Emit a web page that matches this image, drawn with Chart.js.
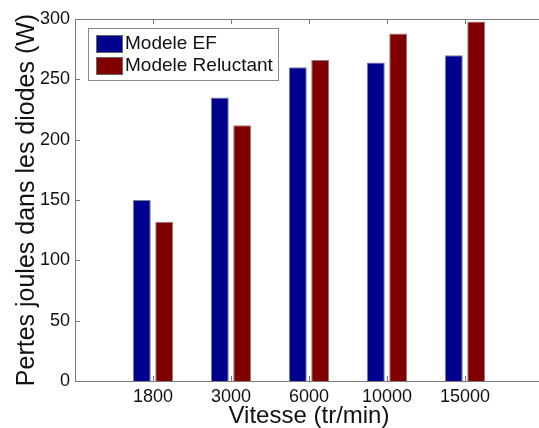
<!DOCTYPE html>
<html>
<head>
<meta charset="utf-8">
<script src="https://cdn.jsdelivr.net/npm/chart.js@4/dist/chart.umd.min.js"></script>
<style>
  html, body { margin: 0; padding: 0; overflow: hidden; background: #fff; }
  #wrap { width: 560px; height: 428px; position: relative; }
</style>
</head>
<body>
<div id="wrap"><canvas id="lossChart"></canvas></div>
<script>
// categories (speed in tr/min)
var speeds = ['1800', '3000', '6000', '10000', '15000'];
// losses in diodes (W)
var modeleEF = [150, 235, 260, 264, 270];
var modeleReluctant = [132, 212, 266, 288, 298];
var yTicks = [0, 50, 100, 150, 200, 250, 300];

var seriesNames = ['Modele EF', 'Modele Reluctant'];
var blue = '#00008f';
var red = '#800000';
var axisColor = '#7a7a7a';
var fontFamily = '"Liberation Sans", Arial, Helvetica, sans-serif';

// pad the axis with one empty slot on each side, like the original plot
var labels = [''].concat(speeds, ['']);
function padData(arr) {
    return [null].concat(arr, [null]);
}

var frameAndLegend = {
    id: 'frameAndLegend',
    afterDatasetsDraw: function (chart) {
        var ctx = chart.ctx, a = chart.chartArea;
        var xs = chart.scales.x, ys = chart.scales.y;
        ctx.save();
        ctx.strokeStyle = axisColor;
        ctx.lineWidth = 1;
        ctx.beginPath();
        ctx.moveTo(a.left, a.top + 0.5);
        ctx.lineTo(a.right, a.top + 0.5);
        // inward tick marks
        for (var i = 0; i < speeds.length; i++) {
            var px = Math.round(xs.getPixelForValue(i + 1)) + 0.5;
            ctx.moveTo(px, a.bottom);
            ctx.lineTo(px, a.bottom - 5);
            ctx.moveTo(px, a.top);
            ctx.lineTo(px, a.top + 5);
        }
        yTicks.forEach(function (v) {
            var py = Math.round(ys.getPixelForValue(v)) + 0.5;
            ctx.moveTo(a.left, py);
            ctx.lineTo(a.left + 5, py);
        });
        ctx.stroke();

        // legend box inside the plot
        var lx = a.left + 13, ly = a.top + 9, lw = 190, lh = 52;
        ctx.fillStyle = '#fff';
        ctx.fillRect(lx, ly, lw, lh);
        ctx.strokeStyle = '#8a8a8a';
        ctx.strokeRect(lx + 0.5, ly + 0.5, lw, lh);
        ctx.font = '19px ' + fontFamily;
        ctx.textBaseline = 'middle';
        chart.data.datasets.forEach(function (ds, k) {
            var by = ly + 7 + k * 22;
            ctx.fillStyle = ds.backgroundColor;
            ctx.fillRect(lx + 8, by, 26, 17);
            ctx.strokeStyle = '#666';
            ctx.strokeRect(lx + 8.5, by + 0.5, 26, 17);
            ctx.fillStyle = '#111';
            ctx.fillText(ds.label, lx + 37, by + 9);
        });
        ctx.restore();
    }
};

var lossChart = new Chart(document.getElementById('lossChart').getContext('2d'), {
    type: 'bar',
    data: {
        labels: labels,
        datasets: [{
            label: seriesNames[0],
            data: padData(modeleEF),
            backgroundColor: blue,
            borderColor: 'rgba(110,110,130,0.9)',
            borderWidth: 1
        }, {
            label: seriesNames[1],
            data: padData(modeleReluctant),
            backgroundColor: red,
            borderColor: 'rgba(130,110,110,0.9)',
            borderWidth: 1
        }]
    },
    options: {
        responsive: true,
        maintainAspectRatio: false,
        animation: false,
        layout: { padding: { top: 19, right: 17, left: 0, bottom: 0 } },
        categoryPercentage: 0.574,
        barPercentage: 0.8,
        plugins: {
            legend: { display: false },
            tooltip: { enabled: false }
        },
        scales: {
            x: {
                offset: false,
                grid: { display: false, drawTicks: false },
                border: { display: true, color: axisColor },
                ticks: {
                    color: '#111',
                    padding: 5,
                    maxRotation: 0,
                    autoSkip: false,
                    font: { family: fontFamily, size: 18 }
                },
                title: {
                    display: true,
                    text: 'Vitesse (tr/min)',
                    color: '#111',
                    padding: { top: 0, bottom: -3 },
                    font: { family: fontFamily, size: 24 }
                },
                afterFit: function (scale) { scale.height = 47; }
            },
            y: {
                min: 0,
                max: 300,
                grid: { display: false, drawTicks: false },
                border: { display: true, color: axisColor },
                ticks: {
                    stepSize: 50,
                    color: '#111',
                    padding: 5,
                    font: { family: fontFamily, size: 18 }
                },
                title: {
                    display: true,
                    text: 'Pertes joules dans les diodes (W)',
                    color: '#111',
                    padding: { top: 12, bottom: 0 },
                    font: { family: fontFamily, size: 25 }
                },
                afterFit: function (scale) { scale.width = 75; }
            }
        }
    },
    plugins: [frameAndLegend]
});
</script>
</body>
</html>
